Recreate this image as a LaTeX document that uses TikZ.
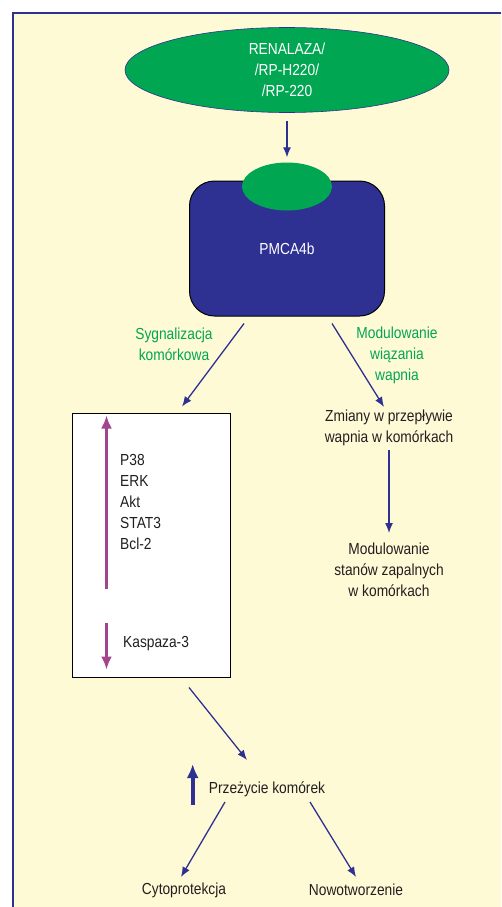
\documentclass[tikz,border=0pt]{standalone}
\usepackage{fontspec}
\setmainfont[FakeStretch=0.86]{Liberation Sans}
\usetikzlibrary{arrows.meta,positioning,shapes.geometric}

\definecolor{ink}{HTML}{2E3192}
\definecolor{leaf}{HTML}{00A651}
\definecolor{plum}{HTML}{A3458E}
\definecolor{cream}{HTML}{FFFAD6}
\definecolor{txt}{HTML}{231F20}

\tikzset{
  flow/.style={draw=ink, line width=1.3pt, -{Latex[length=10pt,width=8pt]}},
  plumflow/.style={draw=plum, line width=3pt, -{Latex[length=13pt,width=11pt]}},
  upflow/.style={draw=ink, line width=4pt, -{Latex[length=14pt,width=12pt]}},
  lbl/.style={text=txt, align=center, inner sep=0pt, font=\fontsize{16}{21}\selectfont},
  glbl/.style={lbl, text=leaf},
  oval/.style={ellipse, fill=leaf, inner sep=0pt},
}

\begin{document}
\begin{tikzpicture}[x=1pt,y=-1pt,on grid]
  \useasboundingbox (0,0) rectangle (501,907);
  % panel
  \fill[cream] (13,13) rectangle (501,907);
  \draw[ink,line width=2pt] (13,907) -- (13,13) -- (501,13);

  % ligand and pump
  \node[oval,lbl,text=white,draw=ink,line width=0.6pt,minimum width=324pt,minimum height=85pt] (ren) at (287,70) {RENALAZA/\\/RP-H220/\\/RP-220};
  \node[lbl,text=white,fill=ink,draw=black,line width=1pt,rounded corners=25pt,minimum width=195pt,minimum height=135pt] (pmca) [below=178.5pt of ren] {PMCA4b};
  \node[oval,minimum width=90pt,minimum height=48pt] (cap) [above=62pt of pmca] {};

  % labels on the two branches
  \node[glbl] (syg) [below left=96pt and 113pt of pmca] {Sygnalizacja\\kom\'orkowa};
  \node[glbl] (wiaz) [below right=106.5pt and 110pt of pmca] {Modulowanie\\wiązania\\wapnia};

  % left branch
  \node[draw=black,fill=white,line width=1pt,minimum width=158pt,minimum height=264pt] (box) [below left=296.5pt and 136pt of pmca] {};
  \node[lbl,align=left,anchor=west] (ups) at ([xshift=-31pt,yshift=43pt]box.center) {P38\\ERK\\Akt\\STAT3\\Bcl-2};
  \node[lbl,anchor=west] (kasp) at ([xshift=-28pt,yshift=-99pt]box.center) {Kaspaza-3};
  \coordinate (upA) at ([xshift=35pt,yshift=89pt]box.south west);
  \coordinate (upB) at ([xshift=35pt,yshift=-3pt]box.north west);
  \coordinate (dnA) at ([xshift=35pt,yshift=55pt]box.south west);
  \coordinate (dnB) at ([xshift=35pt,yshift=8pt]box.south west);

  % right branch
  \node[lbl] (zm) [below right=179.5pt and 102pt of pmca] {Zmiany w przepływie\\wapnia w komórkach};
  \node[lbl] (mod) [below=142pt of zm] {Modulowanie\\stanów zapalnych\\w komórkach};

  % outcome
  \node[lbl] (prz) [below right=244pt and 116pt of box] {Przeżycie komórek};
  \node[lbl] (cyto) [below left=101pt and 83pt of prz] {Cytoprotekcja};
  \node[lbl] (nowo) [below right=101pt and 89pt of prz] {Nowotworzenie};
  \coordinate (surA) at ([xshift=-16pt,yshift=-16pt]prz.west);
  \coordinate (surB) at ([xshift=-16pt,yshift=25pt]prz.west);

  % arrows
  \draw[flow] (ren) -- (cap) [shorten <=8pt, shorten >=5pt];
  \draw[flow] ([xshift=-43pt,yshift=-7pt]pmca.south) -- ([xshift=31pt,yshift=6pt]box.north);
  \draw[flow] ([xshift=45pt,yshift=-7pt]pmca.south) -- ([xshift=-5pt,yshift=21pt]zm.center);
  \draw[flow] ([yshift=-22pt]zm.center) -- ([yshift=37pt]mod.center);
  \draw[plumflow] (upA) -- (upB);
  \draw[plumflow] (dnA) -- (dnB);
  \draw[flow] ([xshift=38pt,yshift=-10pt]box.south) -- ([xshift=-20pt,yshift=29pt]prz.center);
  \draw[upflow] (surA) -- (surB);
  \draw[flow] ([xshift=-42pt,yshift=-13pt]prz.center) -- ([xshift=-3pt,yshift=13pt]cyto.center);
  \draw[flow] ([xshift=43pt,yshift=-13pt]prz.center) -- ([yshift=13pt]nowo.center);
\end{tikzpicture}
\end{document}
